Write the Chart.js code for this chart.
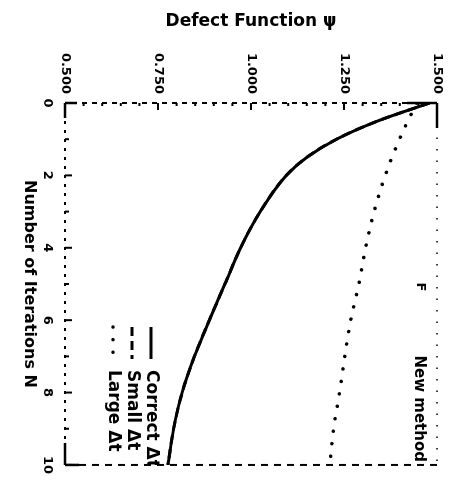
<!DOCTYPE html>
<html>
<head>
<meta charset="utf-8">
<script src="https://cdn.jsdelivr.net/npm/chart.js@4.4.1/dist/chart.umd.min.js"></script>
<style>
  html, body { margin: 0; padding: 0; background: #fff; overflow: hidden; }
  /* the plot is laid out landscape and turned a quarter turn clockwise */
  #wrap {
    position: absolute; left: 0; top: 0;
    width: 484px; height: 458px;
    transform-origin: 0 0;
    transform: translate(458px, 0) rotate(90deg);
  }
</style>
</head>
<body>
<div id="wrap"><canvas id="c" width="484" height="458"></canvas></div>
<script>
// iteration counts at which the curves were sampled
const iterations = [0, 0.5, 1, 1.5, 2, 3, 4, 5, 6, 7, 8, 9, 10];
// defect function, correct time step
const correctDt = [1.48, 1.34, 1.23, 1.15, 1.095, 1.025, 0.972, 0.93, 0.888, 0.848, 0.815, 0.792, 0.777];
// defect function, small time step (runs on top of the correct-step curve)
const smallDt = [1.48, 1.34, 1.23, 1.15, 1.095, 1.025, 0.972, 0.93, 0.888, 0.848, 0.815, 0.792, 0.777];
// defect function, large time step
const largeIterations = [0, 1, 2, 3, 4, 5, 6, 7, 8, 9, 10];
const largeDt = [1.445, 1.399, 1.361, 1.331, 1.308, 1.29, 1.268, 1.252, 1.238, 1.222, 1.212];

const psiTicks = [0.5, 0.75, 1.0, 1.25, 1.5];
const psiTickLabels = ['0.500', '0.750', '1.000', '1.250', '1.500'];
const iterTicks = [0, 2, 4, 6, 8, 10];
const iterTickLabels = ['0', '2', '4', '6', '8', '10'];

const seriesNames = ['Correct \u0394t', 'Small \u0394t', 'Large \u0394t'];

const pts = (xs, ys) => xs.map((v, i) => ({ x: v, y: ys[i] }));

Chart.defaults.font.family = "'DejaVu Sans', 'Liberation Sans', sans-serif";
Chart.defaults.font.weight = 'bold';
Chart.defaults.color = '#000';

// frame, inward tick marks, legend and captions
const framePlugin = {
  id: 'frame',
  afterDatasetsDraw(chart) {
    const { ctx, chartArea: a, scales: { x, y } } = chart;
    ctx.save();
    ctx.strokeStyle = '#000';
    ctx.fillStyle = '#000';
    const seg = (x1, y1, x2, y2, w, dash) => {
      ctx.lineWidth = w;
      ctx.setLineDash(dash);
      ctx.beginPath();
      ctx.moveTo(x1, y1);
      ctx.lineTo(x2, y2);
      ctx.stroke();
    };
    // frame sides
    seg(a.left, a.top, a.left, a.bottom, 2, [5, 5]);
    seg(a.left, a.bottom, a.right, a.bottom, 2, [3, 6]);
    seg(a.left, a.top, a.right, a.top, 1.5, [1.5, 10]);
    seg(a.right, a.top, a.right, a.bottom, 2, [7, 6]);
    // solid corners
    seg(a.left, a.top, a.left, a.top + 30, 2.5, []);
    seg(a.left, a.top, a.left + 25, a.top, 2.5, []);
    seg(a.left, a.bottom - 12, a.left, a.bottom, 2.5, []);
    seg(a.left, a.bottom, a.left + 15, a.bottom, 2.5, []);
    seg(a.right, a.bottom, a.right - 22, a.bottom, 2.5, []);
    seg(a.right, a.bottom, a.right, a.bottom - 14, 2.5, []);

    // tick marks on the defect axis
    for (let v = 0.5; v <= 1.5001; v += 0.05) {
      const py = y.getPixelForValue(v);
      const major = psiTicks.some(t => Math.abs(t - v) < 1e-6);
      seg(a.left, py, a.left + (major ? 7 : 3), py, 2, []);
    }
    // tick marks on the iteration axis
    for (let n = 0; n <= 10; n++) {
      const px = x.getPixelForValue(n);
      seg(px, a.bottom, px, a.bottom - (n % 2 === 0 ? 7 : 4), 2, []);
    }

    // legend and captions, kept inside the plot frame
    ctx.beginPath();
    ctx.rect(a.left, a.top, a.right - a.left, a.bottom - a.top);
    ctx.clip();
    const rows = [a.bottom - 86, a.bottom - 67, a.bottom - 48];
    chart.data.datasets.forEach((ds, i) => {
      const ly = rows[i];
      ctx.lineWidth = ds.borderWidth;
      ctx.lineCap = ds.borderCapStyle || 'butt';
      ctx.setLineDash(ds.borderDash || []);
      ctx.beginPath();
      ctx.moveTo(a.left + 224, ly);
      ctx.lineTo(a.left + 256, ly);
      ctx.stroke();
      ctx.lineCap = 'butt';
      ctx.setLineDash([]);
      ctx.font = "bold 17px 'DejaVu Sans'";
      ctx.textAlign = 'left';
      ctx.textBaseline = 'middle';
      ctx.fillText(ds.label, a.left + 267, ly);
    });
    ctx.font = "bold 15px 'DejaVu Sans'";
    ctx.textAlign = 'right';
    ctx.textBaseline = 'middle';
    ctx.fillText('New method', a.right - 3, a.top + 18);
    ctx.font = "bold 13px 'DejaVu Sans'";
    ctx.textAlign = 'center';
    ctx.fillText('F', a.left + 184, a.top + 17);
    ctx.restore();
  }
};

new Chart(document.getElementById('c'), {
  type: 'line',
  data: {
    datasets: [
      {
        label: seriesNames[0],
        data: pts(iterations, correctDt),
        borderColor: '#000', borderWidth: 3,
        pointRadius: 0, cubicInterpolationMode: 'monotone'
      },
      {
        label: seriesNames[1],
        data: pts(iterations, smallDt),
        borderColor: '#000', borderWidth: 3, borderDash: [9, 5],
        pointRadius: 0, cubicInterpolationMode: 'monotone'
      },
      {
        label: seriesNames[2],
        data: pts(largeIterations, largeDt),
        borderColor: '#000', borderWidth: 3.5,
        borderDash: [0.1, 12.5], borderCapStyle: 'round',
        pointRadius: 0, cubicInterpolationMode: 'monotone'
      }
    ]
  },
  options: {
    responsive: false,
    animation: false,
    devicePixelRatio: 1,
    layout: { padding: { top: 21, right: 19, left: 0, bottom: 0 } },
    plugins: { legend: { display: false }, tooltip: { enabled: false } },
    scales: {
      x: {
        type: 'linear', min: 0, max: 10,
        grid: { display: false, drawTicks: false },
        border: { display: false },
        afterBuildTicks: s => { s.ticks = iterTicks.map(v => ({ value: v })); },
        afterFit: s => { s.height = 65; },
        ticks: {
          padding: 10,
          font: { size: 13, weight: 'bold' },
          callback: (v) => iterTickLabels[iterTicks.indexOf(v)]
        },
        title: {
          display: true, text: 'Number of Iterations N',
          font: { size: 16, weight: 'bold', lineHeight: 1.2 },
          padding: { top: 0, bottom: 20 }
        }
      },
      y: {
        type: 'linear', min: 0.5, max: 1.5,
        grid: { display: false, drawTicks: false },
        border: { display: false },
        afterBuildTicks: s => { s.ticks = psiTicks.map(v => ({ value: v })); },
        afterFit: s => { s.width = 103; },
        ticks: {
          padding: 9,
          font: { size: 13, weight: 'bold' },
          callback: (v) => psiTickLabels[psiTicks.indexOf(v)]
        },
        title: {
          display: true, text: 'Defect Function \u03C8',
          font: { size: 17, weight: 'bold', lineHeight: 1.2 },
          padding: { top: 11, bottom: 0 }
        }
      }
    }
  },
  plugins: [framePlugin]
});
</script>
</body>
</html>
